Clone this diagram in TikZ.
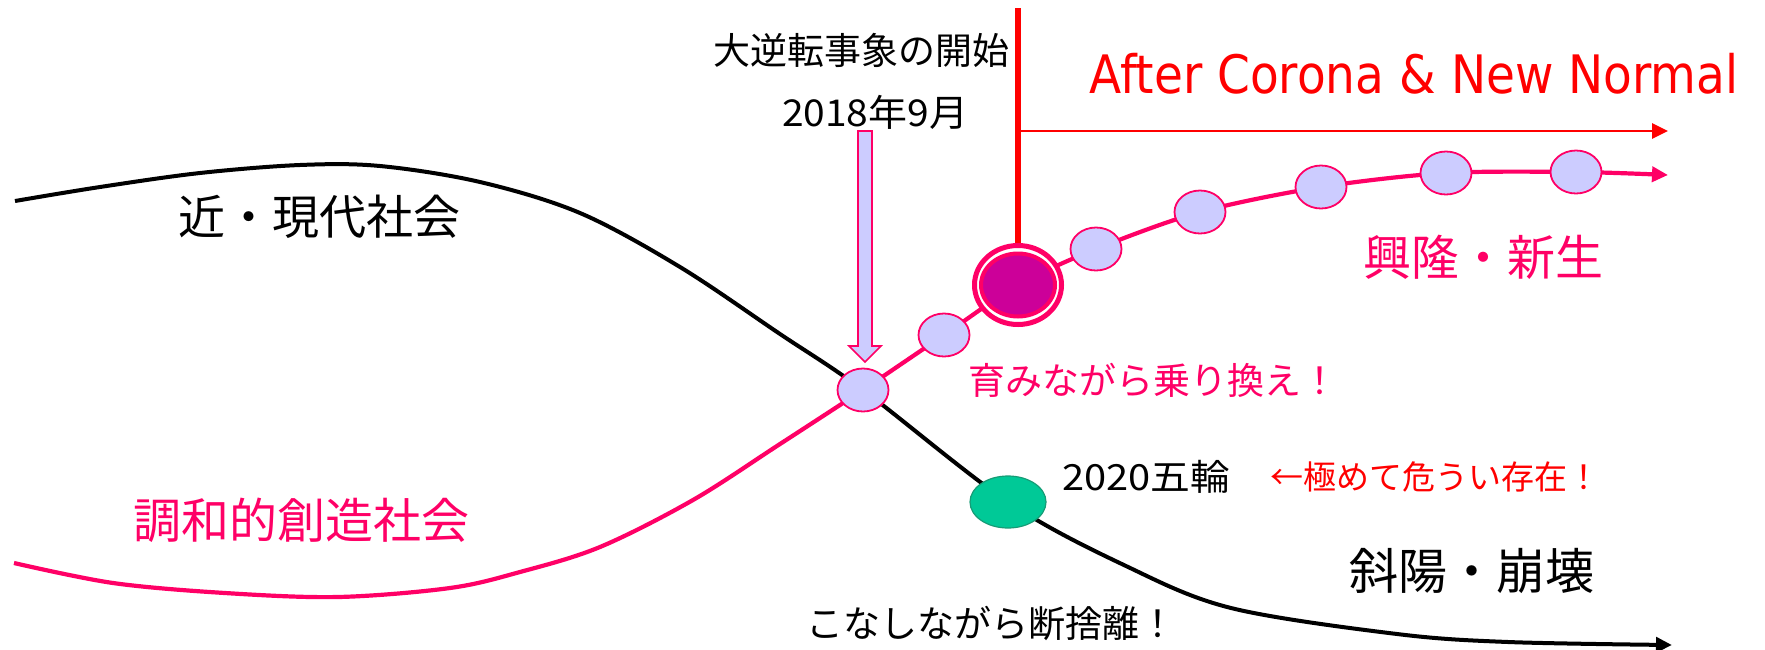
\documentclass[tikz,border=0pt]{standalone}
\usepackage{fontspec}
\setmainfont{Noto Sans CJK JP}
\newfontfamily\latinfont{DejaVu Sans}
\usetikzlibrary{arrows.meta,shapes.geometric}
\definecolor{pinkc}{HTML}{FF0066}
\definecolor{redc}{HTML}{FF0000}
\definecolor{palec}{HTML}{CCCCFF}
\definecolor{greenc}{HTML}{00C997}
\definecolor{greenb}{HTML}{169C76}
\definecolor{magc}{HTML}{CC0099}
\newcommand\fitwidth[2]{\resizebox{#1}{\height}{#2}}
\newcommand\fsz[1]{\fontsize{#1}{#1}\selectfont}
\begin{document}
\begin{tikzpicture}[x=1pt,y=-1pt,
  dot/.style={ellipse, draw=pinkc, fill=palec, line width=1.8pt, minimum width=51pt, minimum height=43pt, inner sep=0pt},
  lab/.style={inner sep=0pt, outer sep=0pt},
  pinkline/.style={draw=pinkc, line width=4.2pt},
  blackline/.style={draw=black, line width=4pt},
  tip/.style={-{Triangle[length=16pt,width=15pt]}}]
\useasboundingbox (0,0) rectangle (1765,649);

% coordinates of the points on the curves
\coordinate (c1) at (863,390);
\coordinate (c2) at (944,335);
\coordinate (c3) at (1018,285);
\coordinate (c4) at (1096,249);
\coordinate (c5) at (1200,212);
\coordinate (c6) at (1321,187);
\coordinate (c7) at (1446,173);
\coordinate (c8) at (1576,172);
\coordinate (pend) at (1668,175);
\coordinate (g) at (1008,502);
\coordinate (bend) at (1672,645);
\coordinate (rtop) at (1018,8);
\coordinate (rmid) at (1018,131);
\coordinate (rend) at (1668,131);

% black curve: modern society -> decline
\draw[blackline, tip] plot[smooth, tension=0.55] coordinates {(15,201) (100,187) (200,173) (300,165) (380,166) (480,182) (580,213) (680,267) (780,334) (c1) (g) (1126,566) (1231,608) (1397,634) (1508,642) (bend)};

% pink curve: harmonious creative society
\draw[pinkline] plot[smooth, tension=0.55] coordinates {(14,563) (113,583) (225,593) (338,597) (450,588) (520,572) (600,547) (693,500) (780,444) (c1)};
\draw[pinkline, tip] plot[smooth, tension=0.5] coordinates {(c1) (c2) (c3) (c4) (c5) (c6) (c7) (c8) (pend)};

% red lines
\draw[redc, line width=5.5pt] (rtop) -- (1018,245);
\draw[redc, line width=2.8pt, tip] (rmid) -- (rend);

% block arrow
\draw[pinkc, fill=palec, line width=1.6pt, line join=miter]
  (858,131) -- (872,131) -- (872,346) -- (881,346) -- (865,362) -- (849,346) -- (858,346) -- cycle;

% nodes
\node[dot] (n1) at (c1) {};
\node[dot] (n2) at (c2) {};
\node[ellipse, draw=pinkc, fill=white, line width=5pt, minimum width=87pt, minimum height=79pt, inner sep=0pt] (big) at (c3) {};
\node[ellipse, draw=pinkc, fill=magc, line width=4pt, minimum width=74pt, minimum height=63pt, inner sep=0pt] (bigin) at (c3) {};
\node[dot] (n4) at (c4) {};
\node[dot] (n5) at (c5) {};
\node[dot] (n6) at (c6) {};
\node[dot] (n7) at (c7) {};
\node[dot] (n8) at (c8) {};
\node[ellipse, draw=greenb, fill=greenc, line width=1.2pt, minimum width=76pt, minimum height=52pt, inner sep=0pt] (gn) at (g) {};

% texts
\node[lab, anchor=west] (t1) at (713,50) {\fsz{37}大逆転事象の開始};
\node[lab] (t2) at (875,112) {\fsz{37}\fitwidth{186pt}{2018年9月}};
\node[lab, anchor=west] (t3) at (178,217) {\fsz{47}近・現代社会};
\node[lab, anchor=west] (t4) at (133,520) {\fsz{48}\color{pinkc}調和的創造社会};
\node[lab, anchor=west] (t5) at (1363,257) {\fsz{48}\color{pinkc}興隆・新生};
\node[lab, anchor=west] (t6) at (968,380) {\fsz{37}\color{pinkc}育みながら乗り換え！};
\node[lab, anchor=west] (t7) at (1062,477) {\fsz{36}\fitwidth{168pt}{2020五輪}};
\node[lab, anchor=west] (t8) at (1270,477) {\fsz{33}\color{redc}←極めて危うい存在！};
\node[lab, anchor=west] (t9) at (1349,571) {\fsz{49}斜陽・崩壊};
\node[lab, anchor=west] (t10) at (806,623) {\fsz{37}こなしながら断捨離！};
\node[lab] (t11) at (1414,74) {\latinfont\fsz{53}\color{redc}\fitwidth{649pt}{After Corona \& New Normal}};
\end{tikzpicture}
\end{document}
